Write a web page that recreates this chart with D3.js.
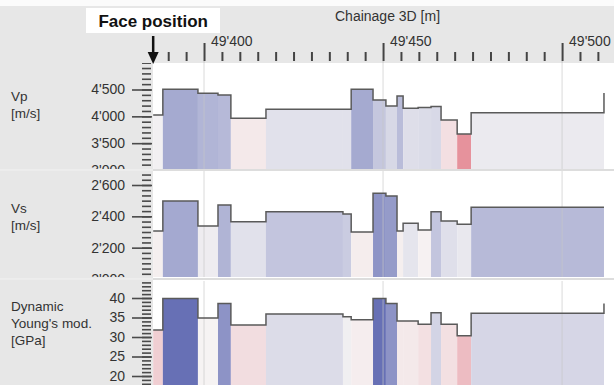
<!DOCTYPE html>
<html><head><meta charset="utf-8">
<script src="https://cdn.jsdelivr.net/npm/d3@7"></script>
<style>body{margin:0;background:#fff}svg{display:block;font-family:"Liberation Sans",Arial,sans-serif}</style>
</head><body><svg id="c" width="614" height="385"></svg>
<script>
// ---------- data ----------
const segStart = [49385.8, 49388.5, 49398.3, 49403.9, 49407.5, 49417.3, 49438.8, 49441.1, 49447.2,
                  49450.8, 49453.9, 49455.6, 49459.8, 49463.4, 49466.2, 49470.7, 49474.6];
const segEnd = 49511.7;
const vpValues = [4024, 4503, 4429, 4397, 3963, 4130, 4130, 4503, 4304, 4192, 4378, 4150, 4165, 4185, 3931, 3670, 4067];
const vpTail = 4434;
const vsValues = [2306, 2498, 2338, 2472, 2366, 2430, 2415, 2300, 2547, 2530, 2306, 2356, 2313, 2430, 2370, 2349, 2458];
const vsTail = null;
const eValues = [31.8, 39.9, 34.9, 38.6, 33.1, 35.9, 35.2, 34.4, 39.9, 38.6, 34.1, 34.1, 33.3, 36.2, 33.3, 30.3, 36.1];
const eTail = 38.6;
const faceChainage = 49385.8;
const xMajorTicks = [49400, 49450, 49500];
const xMinorTicks = d3.range(49390, 49515, 5);
const vpTicks = [3000, 3500, 4000, 4500];
const vsTicks = [2000, 2200, 2400, 2600];
const eTicks = [20, 25, 30, 35, 40];
const vpMinor = d3.range(2900, 5101, 100);
const vsMinor = d3.range(0, 25).map(k => 1900 + k * 100 / 3);
const eMinor = d3.range(17, 46, 1);
const panelLabels = [["Vp", "[m/s]"], ["Vs", "[m/s]"], ["Dynamic", "Young's mod.", "[GPa]"]];
const xTitle = "Chainage 3D [m]";
const faceLabel = "Face position";

// ---------- layout ----------
const W = 614, H = 385, plotLeft = 153;
const svg = d3.select("#c");
const fmt = d3.formatLocale({decimal: ".", thousands: "'", grouping: [3], currency: ["", ""]}).format(",");
const x = d3.scaleLinear().domain([49385.75, 49514.5]).range([plotLeft, W]);

const RED = "#e37d89", MID = "#f6f4f4", BLUE = "#5560ad";
const panels = [
  {vals: vpValues, tail: vpTail, top: 63, bottom: 169, y: d3.scaleLinear().domain([3000, 4500]).range([170, 89.5]),
   color: d3.scaleLinear().domain([3600, 4000, 5000]).range([RED, MID, BLUE]).clamp(true),
   ticks: vpTicks, minor: vpMinor, label: panelLabels[0], labelY: 101},
  {vals: vsValues, tail: vsTail, top: 171, bottom: 277, y: d3.scaleLinear().domain([2000, 2600]).range([279, 185]),
   color: d3.scaleLinear().domain([2000, 2320, 2670]).range([RED, MID, BLUE]).clamp(true),
   ticks: vsTicks, minor: vsMinor, label: panelLabels[1], labelY: 213},
  {vals: eValues, tail: eTail, top: 281, bottom: 385, y: d3.scaleLinear().domain([20, 40]).range([376, 298]),
   color: d3.scaleLinear().domain([25, 35, 40.5]).range([RED, MID, BLUE]).clamp(true),
   ticks: eTicks, minor: eMinor, label: panelLabels[2], labelY: 311}
];

svg.append("rect").attr("width", W).attr("height", H).attr("fill", "#e7e7e7");
svg.append("rect").attr("width", W).attr("height", 6).attr("fill", "#fbfbfb");
svg.append("rect").attr("x", plotLeft).attr("y", 63).attr("width", W - plotLeft).attr("height", H - 63).attr("fill", "#fff");

const defs = svg.append("defs");
panels.forEach((p, i) => {
  defs.append("clipPath").attr("id", "pc" + i).append("rect")
    .attr("x", plotLeft).attr("y", p.top).attr("width", W - plotLeft).attr("height", p.bottom - p.top);
  defs.append("clipPath").attr("id", "ac" + i).append("rect")
    .attr("x", 0).attr("y", p.top).attr("width", plotLeft).attr("height", p.bottom - p.top);

  const g = svg.append("g").attr("clip-path", `url(#pc${i})`);
  const bounds = segStart.concat([segEnd]);
  g.selectAll("rect.bar").data(p.vals).join("rect").attr("class", "bar")
    .attr("x", (d, j) => x(bounds[j]))
    .attr("width", (d, j) => x(bounds[j + 1]) - x(bounds[j]))
    .attr("y", d => p.y(d))
    .attr("height", d => p.bottom - p.y(d))
    .attr("fill", d => p.color(d));
  // gridlines over bars
  g.selectAll("line.grid").data(xMajorTicks).join("line").attr("class", "grid")
    .attr("x1", d => x(d)).attr("x2", d => x(d)).attr("y1", p.top).attr("y2", p.bottom)
    .attr("stroke", "#c8c8c8").attr("stroke-opacity", 0.65).attr("stroke-width", 1);
  const pts = segStart.map((c, j) => [c, p.vals[j]]);
  pts.push([segEnd, p.vals[p.vals.length - 1]]);
  if (p.tail != null) pts.push([segEnd, p.tail]);
  g.append("path").datum(pts)
    .attr("d", d3.line().x(d => x(d[0])).y(d => p.y(d[1])).curve(d3.curveStepAfter))
    .attr("fill", "none").attr("stroke", "#5a5a5a").attr("stroke-width", 1.5);

  // y axis
  const ag = svg.append("g").attr("clip-path", `url(#ac${i})`);
  ag.append("g").attr("transform", "translate(151,0)")
    .call(d3.axisLeft(p.y).tickValues(p.minor).tickSize(9).tickFormat(""))
    .call(s => { s.select(".domain").remove(); s.selectAll("line").attr("stroke", "#4a4a4a").attr("stroke-width", 1.6); });
  ag.append("g").attr("transform", "translate(152,0)")
    .call(d3.axisLeft(p.y).tickValues(p.ticks).tickSize(20).tickPadding(7).tickFormat(fmt))
    .call(s => {
      s.select(".domain").remove();
      s.selectAll("line").attr("stroke", "#4a4a4a").attr("stroke-width", 1.6);
      s.selectAll("text").attr("font-size", 14).attr("fill", "#333").attr("font-family", '"Liberation Sans",Arial,sans-serif');
    });
  // panel label
  const t = svg.append("text").attr("x", 11).attr("y", p.labelY).attr("font-size", 13.5).attr("fill", "#333");
  p.label.forEach((s, k) => t.append("tspan").attr("x", 11).attr("dy", k ? 17 : 0).text(s));
});

// separators
[170, 279].forEach(yv => {
  svg.append("line").attr("x1", plotLeft).attr("x2", W).attr("y1", yv).attr("y2", yv)
    .attr("stroke", "#d2d2d2").attr("stroke-width", 1.5);
  svg.append("line").attr("x1", 0).attr("x2", plotLeft).attr("y1", yv).attr("y2", yv)
    .attr("stroke", "#f2f2f2").attr("stroke-width", 1);
});

// gridline segment in the header gap
svg.selectAll("line.hg").data(xMajorTicks).join("line").attr("class", "hg")
  .attr("x1", d => x(d)).attr("x2", d => x(d)).attr("y1", 61).attr("y2", 63).attr("stroke", "#c8c8c8");

// top axis
svg.append("g").attr("transform", "translate(0,61)")
  .call(d3.axisTop(x).tickValues(xMinorTicks.filter(v => !xMajorTicks.includes(v))).tickSize(9).tickFormat(""))
  .call(s => { s.select(".domain").remove(); s.selectAll("line").attr("stroke", "#444").attr("stroke-width", 2); });
svg.append("g").attr("transform", "translate(0,61)")
  .call(d3.axisTop(x).tickValues(xMajorTicks).tickSize(18).tickFormat(""))
  .call(s => { s.select(".domain").remove(); s.selectAll("line").attr("stroke", "#444").attr("stroke-width", 2); });
svg.selectAll("text.xl").data(xMajorTicks).join("text").attr("class", "xl")
  .attr("x", d => x(d) + 7).attr("y", 46).attr("font-size", 14).attr("fill", "#333").text(d => fmt(d));
svg.append("text").attr("x", 335).attr("y", 21).attr("font-size", 14).attr("fill", "#333").text(xTitle);

// face position
const fx = x(faceChainage);
svg.append("rect").attr("x", 86).attr("y", 8).attr("width", 134).attr("height", 25).attr("fill", "#fff");
svg.append("text").attr("x", fx).attr("y", 27).attr("text-anchor", "middle")
  .attr("font-size", 17).attr("font-weight", "bold").attr("fill", "#111").text(faceLabel);
svg.append("line").attr("x1", fx).attr("x2", fx).attr("y1", 36).attr("y2", 54)
  .attr("stroke", "#111").attr("stroke-width", 2.5);
svg.append("path").attr("d", `M${fx - 5.5},52 L${fx + 5.5},52 L${fx},64 Z`).attr("fill", "#111");
</script></body></html>
